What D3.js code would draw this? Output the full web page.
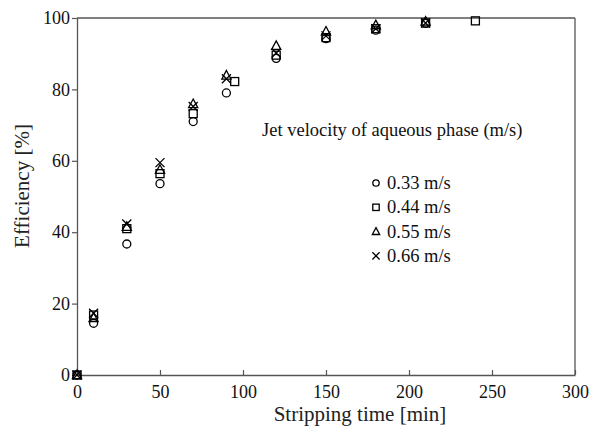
<!DOCTYPE html>
<html>
<head>
<meta charset="utf-8">
<script src="https://cdn.jsdelivr.net/npm/d3@7"></script>
<style>
  html, body { margin: 0; padding: 0; background: #fff; }
  svg { display: block; }
</style>
</head>
<body>
<svg id="chart" width="593" height="431"></svg>
<script>
// ---- data ----
const times = [0, 10, 30, 50, 70, 90, 120, 150, 180, 210];
const v033 = [0, 14.5, 36.7, 53.6, 71.0, 79.0, 88.7, 94.2, 96.6, 98.5];
const v044x = [0, 10, 30, 50, 70, 95, 120, 150, 180, 210, 240];
const v044 = [0, 16.8, 41.0, 56.4, 73.2, 82.2, 89.6, 94.5, 97.0, 98.6, 99.2];
const v055 = [0, 16.0, 41.5, 57.5, 75.9, 83.9, 92.2, 96.2, 98.0, 99.0];
const v066 = [0, 17.3, 42.3, 59.5, 75.2, 83.0, 90.2, 95.0, 97.0, 98.6];
const legendLabels = ["0.33 m/s", "0.44 m/s", "0.55 m/s", "0.66 m/s"];
const xTicks = [0, 50, 100, 150, 200, 250, 300];
const yTicks = [0, 20, 40, 60, 80, 100];

const series = [
  { name: legendLabels[0], shape: "circle", xs: times, ys: v033 },
  { name: legendLabels[1], shape: "square", xs: v044x, ys: v044 },
  { name: legendLabels[2], shape: "triangle", xs: times, ys: v055 },
  { name: legendLabels[3], shape: "cross", xs: times, ys: v066 }
];

// ---- layout ----
const svg = d3.select("#chart");
const L = 77, R = 575, T = 18, B = 375;
const x = d3.scaleLinear().domain([0, 300]).range([L, R]);
const y = d3.scaleLinear().domain([0, 100]).range([B, T]);
const serif = "'Liberation Serif', 'DejaVu Serif', serif";
const axisColor = "#555";

// frame (top and right)
svg.append("line").attr("x1", L).attr("x2", R).attr("y1", T).attr("y2", T)
  .attr("stroke", axisColor).attr("stroke-width", 1.3);
svg.append("line").attr("x1", R).attr("x2", R).attr("y1", T).attr("y2", B)
  .attr("stroke", axisColor).attr("stroke-width", 1.3);

// x axis (ticks pointing inward/up)
const gx = svg.append("g").attr("transform", `translate(0,${B})`)
  .call(d3.axisBottom(x).tickValues(xTicks).tickSize(-5).tickPadding(10).tickSizeOuter(0));
gx.select(".domain").attr("stroke", axisColor).attr("stroke-width", 1.3);
gx.selectAll(".tick line").attr("stroke", axisColor).attr("stroke-width", 1.2);
gx.selectAll(".tick text").attr("font-family", serif).attr("font-size", 18).attr("fill", "#111");

// y axis (ticks pointing outward/left)
const gy = svg.append("g").attr("transform", `translate(${L},0)`)
  .call(d3.axisLeft(y).tickValues(yTicks).tickSize(5).tickPadding(2).tickSizeOuter(0));
gy.select(".domain").attr("stroke", axisColor).attr("stroke-width", 1.3);
gy.selectAll(".tick line").attr("stroke", axisColor).attr("stroke-width", 1.2);
gy.selectAll(".tick text").attr("font-family", serif).attr("font-size", 18).attr("fill", "#111");

// axis titles
svg.append("text").attr("x", 360).attr("y", 421).attr("text-anchor", "middle")
  .attr("font-family", serif).attr("font-size", 21).attr("fill", "#222")
  .text("Stripping time [min]");
svg.append("text").attr("transform", `translate(29,186) rotate(-90)`)
  .attr("text-anchor", "middle").attr("font-family", serif).attr("font-size", 21).attr("fill", "#222")
  .text("Efficiency [%]");

// marker drawing
function drawMarker(g, shape, cx, cy, k) {
  const s = 4 * k;
  const common = sel => sel.attr("fill", "none").attr("stroke", "#000").attr("stroke-width", 1.3);
  if (shape === "circle") {
    common(g.append("circle").attr("cx", cx).attr("cy", cy).attr("r", s));
  } else if (shape === "square") {
    common(g.append("rect").attr("x", cx - s).attr("y", cy - s).attr("width", 2 * s).attr("height", 2 * s));
  } else if (shape === "triangle") {
    common(g.append("path").attr("d", `M${cx},${cy - 5 * k}L${cx + 4.6 * k},${cy + 3.6 * k}L${cx - 4.6 * k},${cy + 3.6 * k}Z`));
  } else {
    const c = 4.5 * k;
    common(g.append("path").attr("d", `M${cx - c},${cy - c}L${cx + c},${cy + c}M${cx + c},${cy - c}L${cx - c},${cy + c}`));
  }
}

const gp = svg.append("g");
series.forEach(s => {
  s.ys.forEach((v, i) => drawMarker(gp, s.shape, x(s.xs[i]), y(v), 1));
});

// legend
svg.append("text").attr("x", 262).attr("y", 136).attr("font-family", serif).attr("font-size", 18.5)
  .attr("fill", "#111").text("Jet velocity of aqueous phase (m/s)");
const gl = svg.append("g");
series.forEach((s, i) => {
  const cy = 183 + i * 24.3;
  drawMarker(gl, s.shape, 376, cy, 0.8);
  gl.append("text").attr("x", 387).attr("y", cy + 6).attr("font-family", serif).attr("font-size", 18.5)
    .attr("fill", "#111").text(s.name);
});
</script>
</body>
</html>
